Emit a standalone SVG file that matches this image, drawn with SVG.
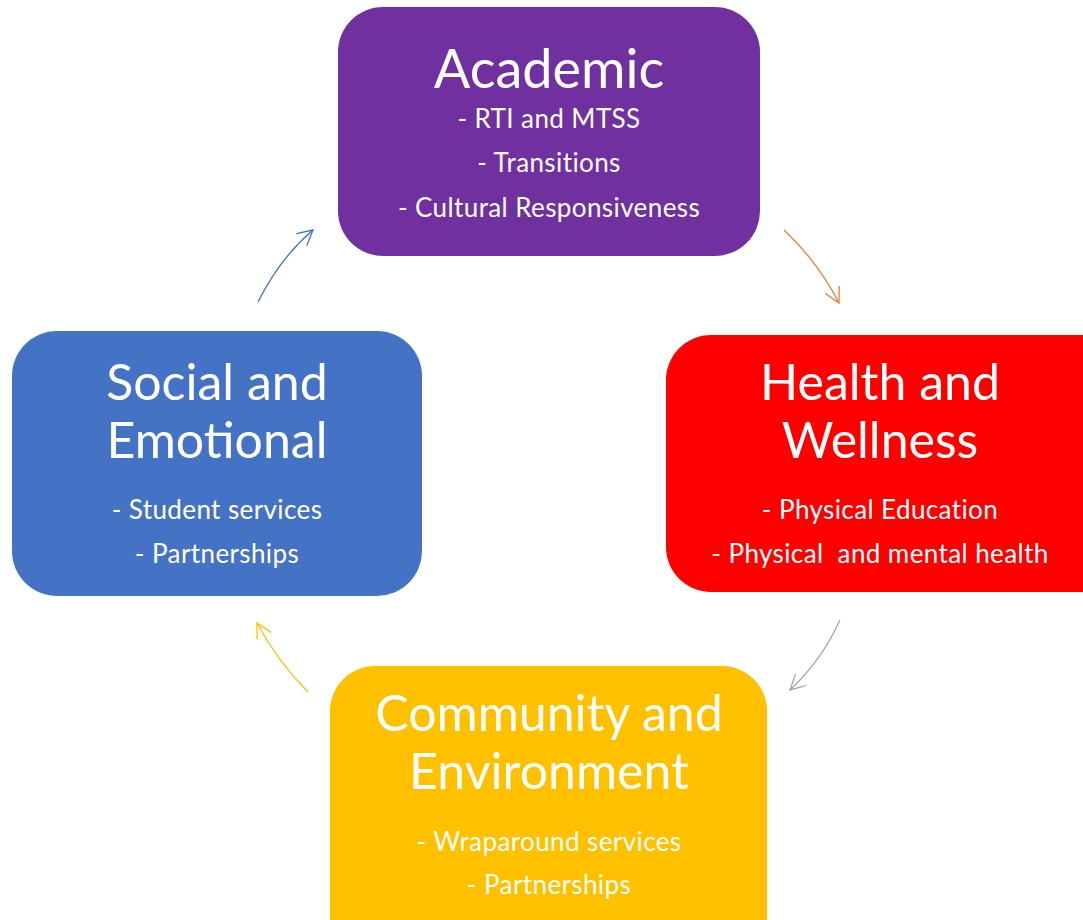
<svg xmlns="http://www.w3.org/2000/svg" width="1083" height="920" viewBox="0 0 1083 920">
<style>
text{font-family:Lato,"Open Sans","Liberation Sans",sans-serif;fill:#fff;text-anchor:middle}
.t{font-size:50px}
.a{font-size:54px}
.s{font-size:26px;letter-spacing:0.4px}
.c{fill:none;stroke-width:1.3}
</style>
<defs>
<marker id="mb" markerWidth="20" markerHeight="20" refX="15" refY="8" orient="auto" markerUnits="userSpaceOnUse"><polyline points="0,0 15,8 0,16" fill="none" stroke="#4472C4" stroke-width="1.3"/></marker>
<marker id="mo" markerWidth="20" markerHeight="20" refX="15" refY="8" orient="auto" markerUnits="userSpaceOnUse"><polyline points="0,0 15,8 0,16" fill="none" stroke="#ED7D31" stroke-width="1.3"/></marker>
<marker id="mg" markerWidth="20" markerHeight="20" refX="15" refY="8" orient="auto" markerUnits="userSpaceOnUse"><polyline points="0,0 15,8 0,16" fill="none" stroke="#A5A5A5" stroke-width="1.3"/></marker>
<marker id="my" markerWidth="20" markerHeight="20" refX="15" refY="8" orient="auto" markerUnits="userSpaceOnUse"><polyline points="0,0 15,8 0,16" fill="none" stroke="#FFC000" stroke-width="1.3"/></marker>
</defs>
<rect width="1083" height="920" fill="#fff"/>
<g id="academic">
<rect x="338" y="7" width="422" height="249" rx="45" fill="#7030A0"/>
<text class="a" x="549" y="88">Academic</text>
<text class="s" x="549" y="128">- RTI and MTSS</text>
<text class="s" x="549" y="172">- Transitions</text>
<text class="s" x="549" y="217">- Cultural Responsiveness</text>
</g>
<g id="health">
<rect x="666" y="335" width="460" height="257" rx="45" fill="#FF0000"/>
<text class="t" x="880" y="400">Health and</text>
<text class="t" x="880" y="458">Wellness</text>
<text class="s" x="880" y="519">- Physical Education</text>
<text class="s" x="880" y="563" xml:space="preserve">- Physical  and mental health</text>
</g>
<g id="social">
<rect x="12" y="331" width="410" height="265" rx="45" fill="#4472C4"/>
<text class="t" x="217" y="400">Social and</text>
<text class="t" x="217" y="458">Emotional</text>
<text class="s" x="217" y="519">- Student services</text>
<text class="s" x="217" y="563">- Partnerships</text>
</g>
<g id="community">
<rect x="330" y="666" width="437" height="300" rx="45" fill="#FFC000"/>
<text class="t" x="549" y="731">Community and</text>
<text class="t" x="549" y="789">Environment</text>
<text class="s" x="549" y="851">- Wraparound services</text>
<text class="s" x="549" y="894">- Partnerships</text>
</g>
<g id="connectors">
<path class="c" d="M258,302 Q280,258 313,230" stroke="#4472C4" marker-end="url(#mb)"/>
<path class="c" d="M784,230 Q818,262 839,303" stroke="#ED7D31" marker-end="url(#mo)"/>
<path class="c" d="M840,620 Q822,660 790,690" stroke="#A5A5A5" marker-end="url(#mg)"/>
<path class="c" d="M308,692 Q278,662 257,623" stroke="#FFC000" marker-end="url(#my)"/>
</g>
</svg>
